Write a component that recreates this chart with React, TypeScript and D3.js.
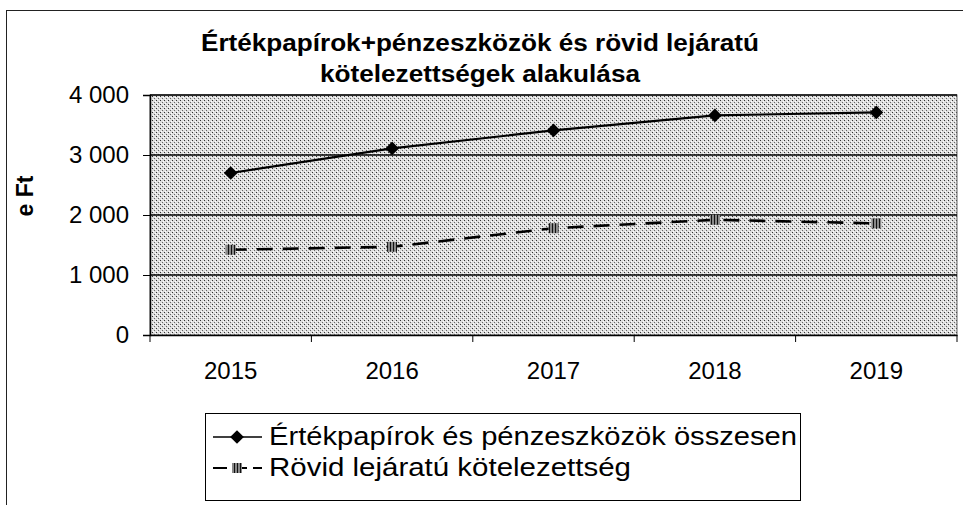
import React, { useRef, useEffect } from 'react';
import * as d3 from 'd3';

const years = ['2015', '2016', '2017', '2018', '2019'];
const securitiesTotal = [2700, 3110, 3410, 3660, 3710];
const shortTermLiabilities = [1420, 1470, 1780, 1920, 1860];
const yTicks = [0, 1000, 2000, 3000, 4000];
const seriesNames = ['Értékpapírok és pénzeszközök összesen', 'Rövid lejáratú kötelezettség'];

const App: React.FC = () => {
  const svgRef = useRef<SVGSVGElement | null>(null);

  useEffect(() => {
    const svg = d3.select(svgRef.current!);
    svg.selectAll('*').remove();

    const left = 150, right = 957, top = 95, bottom = 335;
    const font = 'Arial, "Liberation Sans", sans-serif';

    const defs = svg.append('defs');
    const pat = defs.append('pattern')
      .attr('id', 'dots')
      .attr('width', 4)
      .attr('height', 4)
      .attr('patternUnits', 'userSpaceOnUse');
    pat.append('rect').attr('width', 4).attr('height', 4).attr('fill', '#dedede');
    pat.append('rect').attr('x', 0).attr('y', 0).attr('width', 1).attr('height', 1).attr('fill', '#333');
    pat.append('rect').attr('x', 2).attr('y', 2).attr('width', 1).attr('height', 1).attr('fill', '#666');
    pat.append('rect').attr('x', 3).attr('y', 1).attr('width', 1).attr('height', 1).attr('fill', '#fff');
    pat.append('rect').attr('x', 1).attr('y', 3).attr('width', 1).attr('height', 1).attr('fill', '#fff');

    const hatch = defs.append('pattern')
      .attr('id', 'hatch')
      .attr('width', 3)
      .attr('height', 3)
      .attr('patternUnits', 'userSpaceOnUse');
    hatch.append('rect').attr('width', 3).attr('height', 3).attr('fill', '#888');
    hatch.append('rect').attr('width', 1).attr('height', 3).attr('fill', '#111');

    // outer frame
    svg.append('rect')
      .attr('x', 6.5).attr('y', 10.5)
      .attr('width', 970).attr('height', 520)
      .attr('fill', 'white')
      .attr('stroke', '#222')
      .attr('stroke-width', 1);

    const x = d3.scaleBand<string>().domain(years).range([left, right]);
    const y = d3.scaleLinear().domain([0, 4000]).range([bottom, top]);

    svg.append('rect')
      .attr('x', left).attr('y', top)
      .attr('width', right - left).attr('height', bottom - top)
      .attr('fill', 'url(#dots)')
      .attr('stroke', '#666');

    // gridlines
    svg.append('g')
      .selectAll('line')
      .data(yTicks.filter(t => t > 0))
      .join('line')
      .attr('x1', left).attr('x2', right)
      .attr('y1', d => y(d)).attr('y2', d => y(d))
      .attr('stroke', '#000')
      .attr('stroke-width', 1.5);

    // y axis
    const yAxis = svg.append('g')
      .attr('transform', `translate(${left},0)`)
      .call(d3.axisLeft(y).tickValues(yTicks).tickSize(7).tickPadding(14)
        .tickFormat(d => d3.format(',')(d as number).replace(/,/g, ' ')));
    yAxis.select('.domain').attr('stroke', '#000').attr('stroke-width', 1.5);
    yAxis.selectAll('text').attr('font-family', font).attr('font-size', 24).attr('fill', '#000');

    // x axis
    const xAxis = svg.append('g')
      .attr('transform', `translate(0,${bottom})`)
      .call(d3.axisBottom(x).tickSize(0).tickPadding(27));
    xAxis.select('.domain').attr('stroke', '#000').attr('stroke-width', 1.5);
    xAxis.selectAll('text').attr('font-family', font).attr('font-size', 24).attr('fill', '#000');
    xAxis.selectAll('.boundary')
      .data(d3.range(years.length + 1))
      .join('line')
      .attr('class', 'boundary')
      .attr('x1', i => left + i * x.bandwidth())
      .attr('x2', i => left + i * x.bandwidth())
      .attr('y1', 0).attr('y2', 7)
      .attr('stroke', '#000');

    const cx = (d: string) => x(d)! + x.bandwidth() / 2;
    const line = d3.line<number>().x((_, i) => cx(years[i])).y(d => y(d));

    svg.append('path')
      .attr('d', line(securitiesTotal))
      .attr('fill', 'none')
      .attr('stroke', '#000')
      .attr('stroke-width', 2.2);

    svg.append('path')
      .attr('d', line(shortTermLiabilities))
      .attr('fill', 'none')
      .attr('stroke', '#000')
      .attr('stroke-width', 2.6)
      .attr('stroke-dasharray', '16 10');

    const diamond = d3.symbol().type(d3.symbolDiamond2).size(120);
    svg.append('g')
      .selectAll('path')
      .data(securitiesTotal)
      .join('path')
      .attr('d', diamond)
      .attr('transform', (d, i) => `translate(${cx(years[i])},${y(d)})`)
      .attr('fill', '#000');

    svg.append('g')
      .selectAll('rect')
      .data(shortTermLiabilities)
      .join('rect')
      .attr('x', (d, i) => cx(years[i]) - 5)
      .attr('y', d => y(d) - 5)
      .attr('width', 10).attr('height', 10)
      .attr('fill', 'url(#hatch)');

    // title
    const title = svg.append('text')
      .attr('text-anchor', 'middle')
      .attr('font-family', font)
      .attr('font-weight', 'bold')
      .attr('font-size', 23)
      .attr('fill', '#000');
    title.append('tspan').attr('x', 480).attr('y', 51)
      .attr('textLength', 558).attr('lengthAdjust', 'spacingAndGlyphs')
      .text('Értékpapírok+pénzeszközök és rövid lejáratú');
    title.append('tspan').attr('x', 480).attr('y', 82)
      .attr('textLength', 320).attr('lengthAdjust', 'spacingAndGlyphs')
      .text('kötelezettségek alakulása');

    // y axis title
    svg.append('text')
      .attr('transform', `translate(33,196) rotate(-90)`)
      .attr('text-anchor', 'middle')
      .attr('font-family', font)
      .attr('font-weight', 'bold')
      .attr('font-size', 23)
      .attr('fill', '#000')
      .text('e Ft');

    // legend
    const lg = svg.append('g');
    lg.append('rect')
      .attr('x', 205.5).attr('y', 413.5)
      .attr('width', 595).attr('height', 87)
      .attr('fill', 'white')
      .attr('stroke', '#000');
    const rows = [437, 468];
    rows.forEach((ry, i) => {
      lg.append('line')
        .attr('x1', 213).attr('x2', 262)
        .attr('y1', ry).attr('y2', ry)
        .attr('stroke', '#000')
        .attr('stroke-width', i === 0 ? 1.5 : 2)
        .attr('stroke-dasharray', i === 0 ? null : '14 6');
      if (i === 0) {
        lg.append('path').attr('d', diamond).attr('transform', `translate(237,${ry})`).attr('fill', '#000');
      } else {
        lg.append('rect').attr('x', 232).attr('y', ry - 5).attr('width', 10).attr('height', 10).attr('fill', 'url(#hatch)');
      }
      lg.append('text')
        .attr('x', 269).attr('y', ry + 8)
        .attr('font-family', font)
        .attr('font-size', 25)
        .attr('textLength', i === 0 ? 528 : 362)
        .attr('lengthAdjust', 'spacingAndGlyphs')
        .attr('fill', '#000')
        .text(seriesNames[i]);
    });
  }, []);

  return (
    <svg ref={svgRef} width={963} height={505}
      style={{ position: 'absolute', left: 0, top: 0, background: 'white' }} />
  );
};

export default App;
